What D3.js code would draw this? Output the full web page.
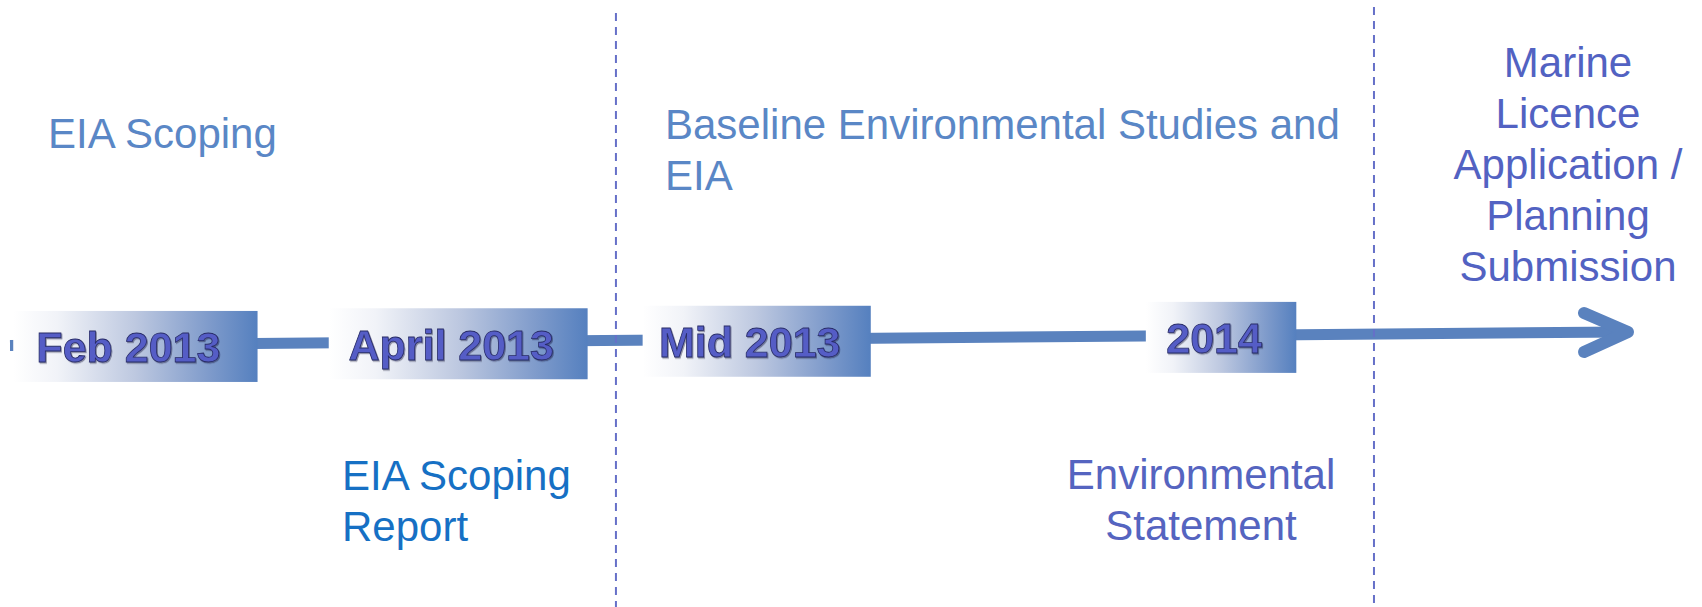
<!DOCTYPE html>
<html>
<head>
<meta charset="utf-8">
<script src="https://cdn.jsdelivr.net/npm/d3@7"></script>
<style>
  html, body { margin: 0; padding: 0; background: #ffffff; }
  svg { display: block; }
</style>
</head>
<body>
<svg id="chart" width="1702" height="607"></svg>
<script>
// ---- Data (timeline positions on a 0–100 timeline axis) ----
const milestones     = ["Feb 2013", "April 2013", "Mid 2013", "2014"];
const milestoneStart = [0.2, 19.7, 39.1, 70.2];
const milestoneEnd   = [15.3, 35.7, 53.2, 79.5];
const phaseBounds    = [37.45, 84.3];
const topLabels = [
  ["EIA Scoping"],
  ["Baseline Environmental Studies and", "EIA"],
  ["Marine", "Licence", "Application /", "Planning", "Submission"]
];
const bottomLabels = [
  ["EIA Scoping", "Report"],
  ["Environmental", "Statement"]
];

// ---- Layout ----
const W = 1702, H = 607;
const svg = d3.select("#chart");
const x = d3.scaleLinear().domain([0, 100]).range([10, 1628]);
const lineY = d3.scaleLinear().domain([0, 100]).range([345.5, 332]);
const boxH = 71;
const lineColor = "#5a82be";
const font = "'Liberation Sans', Arial, Helvetica, sans-serif";

const defs = svg.append("defs");
const grad = defs.append("linearGradient").attr("id", "boxGrad")
  .attr("x1", "0%").attr("x2", "100%").attr("y1", "0%").attr("y2", "0%");
[[0, "#ffffff"], [0.18, "#f1f3f8"], [0.5, "#bdc8e0"], [0.8, "#7f9bcb"], [1, "#5580bf"]]
  .forEach(([o, c]) => grad.append("stop").attr("offset", o).attr("stop-color", c));

const shadow = defs.append("filter").attr("id", "txtShadow")
  .attr("x", "-10%").attr("y", "-20%").attr("width", "130%").attr("height", "150%");
shadow.append("feDropShadow").attr("dx", 1).attr("dy", 1.2).attr("stdDeviation", 0.7)
  .attr("flood-color", "#1a1a3a").attr("flood-opacity", 0.45);

// main timeline line
svg.append("line")
  .attr("x1", x(0)).attr("y1", lineY(0))
  .attr("x2", x(100) - 4).attr("y2", lineY(100))
  .attr("stroke", lineColor).attr("stroke-width", 11);

// arrow head
const tipX = x(100), tipY = lineY(100);
svg.append("polyline")
  .attr("points", [[tipX - 44, tipY - 19], [tipX, tipY], [tipX - 44, tipY + 20]].map(p => p.join(",")).join(" "))
  .attr("fill", "none").attr("stroke", lineColor).attr("stroke-width", 12)
  .attr("stroke-linecap", "round").attr("stroke-linejoin", "round");

// phase dividers
svg.selectAll("line.phase").data(phaseBounds).enter().append("line")
  .attr("class", "phase")
  .attr("x1", d => x(d)).attr("x2", d => x(d))
  .attr("y1", (d, i) => i === 0 ? 13 : 7).attr("y2", H)
  .attr("stroke", "#6670c8").attr("stroke-width", 2)
  .attr("stroke-dasharray", "8,6");

// milestone boxes
const boxes = svg.selectAll("g.ms").data(milestones).enter().append("g").attr("class", "ms");
boxes.append("rect")
  .attr("x", (d, i) => x(milestoneStart[i]))
  .attr("width", (d, i) => x(milestoneEnd[i]) - x(milestoneStart[i]))
  .attr("y", (d, i) => lineY((milestoneStart[i] + milestoneEnd[i]) / 2) + 2 - boxH / 2)
  .attr("height", boxH)
  .attr("fill", "url(#boxGrad)");
boxes.append("text")
  .attr("x", (d, i) => (x(milestoneStart[i]) + x(milestoneEnd[i])) / 2 - 7)
  .attr("y", (d, i) => lineY((milestoneStart[i] + milestoneEnd[i]) / 2) + 2 + 16)
  .attr("text-anchor", "middle")
  .attr("font-family", font).attr("font-weight", "bold").attr("font-size", 43)
  .attr("fill", "#555dc6").attr("stroke", "#282c68").attr("stroke-width", 0.8)
  .attr("filter", "url(#txtShadow)")
  .text(d => d);

// annotation text helper
function multiline(lines, px, baseline, anchor, color) {
  const t = svg.append("text")
    .attr("font-family", font).attr("font-size", 42)
    .attr("fill", color).attr("text-anchor", anchor);
  lines.forEach((l, i) => t.append("tspan").attr("x", px).attr("y", baseline + i * 51).text(l));
}

multiline(topLabels[0], 48, 148, "start", "#5a87c6");
multiline(topLabels[1], 665, 139, "start", "#5a87c6");
multiline(topLabels[2], 1568, 77, "middle", "#5262c2");
multiline(bottomLabels[0], 342, 490, "start", "#1670c4");
multiline(bottomLabels[1], 1201, 489, "middle", "#5564c0");
</script>
</body>
</html>
